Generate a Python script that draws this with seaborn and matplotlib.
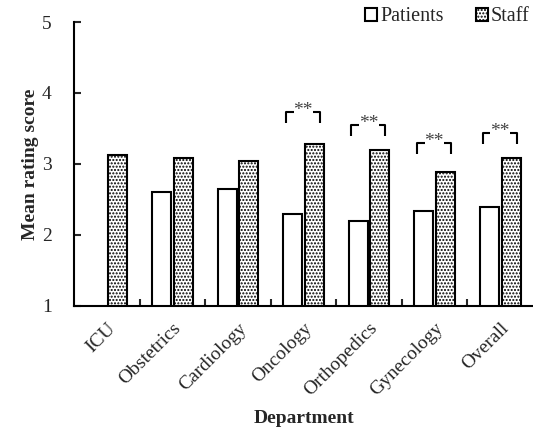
import numpy as np
import pandas as pd
import matplotlib
matplotlib.use("Agg")
import matplotlib.pyplot as plt
import seaborn as sns
from matplotlib.patches import Patch

departments = ["ICU", "Obstetrics", "Cardiology", "Oncology", "Orthopedics", "Gynecology", "Overall"]
patients = [np.nan, 2.61, 2.65, 2.30, 2.20, 2.34, 2.39]
staff = [3.13, 3.08, 3.04, 3.28, 3.19, 2.89, 3.09]
sig_depts = ["Oncology", "Orthopedics", "Gynecology", "Overall"]
sig_top = [3.73, 3.55, 3.30, 3.44]
sig_label = "**"

sns.set_theme(style="white")
plt.rcParams['font.family'] = ['Liberation Serif', 'DejaVu Serif']
plt.rcParams['hatch.linewidth'] = 1.0
plt.rcParams['hatch.color'] = 'black'

df = pd.DataFrame({
    "Department": departments * 2,
    "Group": ["Patients"] * len(departments) + ["Staff"] * len(departments),
    "Score": patients + staff,
})

fig = plt.figure(figsize=(5.33, 4.32), dpi=100)
ax = fig.add_axes([0.139, 0.292, 0.861, 0.657])

sns.barplot(data=df, x="Department", y="Score", hue="Group", order=departments,
            hue_order=["Patients", "Staff"], palette=["white", "white"],
            edgecolor="black", linewidth=1.5, width=0.66, gap=0.12,
            errorbar=None, legend=False, ax=ax)

for bar in ax.containers[1]:
    bar.set_hatch('.....')

ax.set_ylim(1, 5)
ax.set_xlim(-0.5, len(departments) - 0.5)
ax.set_yticks([1, 2, 3, 4, 5])
ax.tick_params(axis='y', direction='in', length=5, width=1.5, labelsize=14, pad=16, left=True)
ax.set_xticks(range(len(departments)))
ax.set_xticklabels(departments, rotation=45, ha='right', rotation_mode='anchor', fontsize=14)
ax.tick_params(axis='x', length=0, pad=10)
ax.set_xticks(np.arange(0.5, len(departments) - 0.5, 1.0), minor=True)
ax.tick_params(axis='x', which='minor', direction='in', length=5, width=1.5, bottom=True)

for s in ['top', 'right']:
    ax.spines[s].set_visible(False)
for s in ['left', 'bottom']:
    ax.spines[s].set_linewidth(1.5)
    ax.spines[s].set_color('black')

ax.set_ylabel("Mean rating score", fontsize=14, fontweight='bold', labelpad=2)
ax.set_xlabel("Department", fontsize=14, fontweight='bold', labelpad=8)

# significance brackets
for d, top in zip(sig_depts, sig_top):
    i = departments.index(d)
    x0, x1 = i - 0.27, i + 0.25
    h = 0.16
    gap = 0.15
    ax.plot([x0, x0, i - gap], [top - h, top, top], color='black', lw=1.5, solid_capstyle='butt')
    ax.plot([i + gap, x1, x1], [top, top, top - h], color='black', lw=1.5, solid_capstyle='butt')
    ax.text(i - 0.01, top - 0.1, sig_label, ha='center', va='bottom', fontsize=14, color='#444444')

handles = [Patch(facecolor='white', edgecolor='black', linewidth=1.5, label='Patients'),
           Patch(facecolor='white', edgecolor='black', linewidth=1.5, hatch='.....', label='Staff')]
ax.legend(handles=handles, loc='upper right', bbox_to_anchor=(1.01, 1.08), ncol=2,
          frameon=False, fontsize=14.5, handlelength=0.6, handleheight=0.6,
          handletextpad=0.15, columnspacing=1.6, borderaxespad=0)

fig.savefig("out.png", dpi=100)
